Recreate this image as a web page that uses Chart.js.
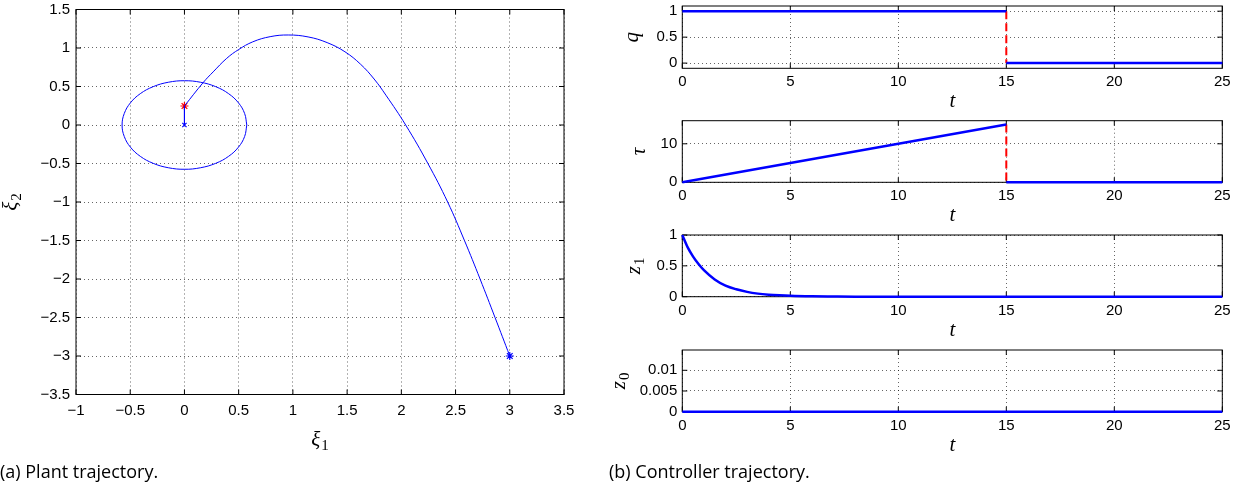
<!DOCTYPE html>
<html>
<head>
<meta charset="utf-8">
<script src="https://cdn.jsdelivr.net/npm/chart.js@4.4.0/dist/chart.umd.min.js"></script>
<style>
    body { margin: 0; background: #fff; }
    #fig { position: relative; width: 1239px; height: 489px; overflow: hidden; }
    #fig canvas { position: absolute; left: 0; top: 0; }
    .cap { position: absolute; top: 460px; line-height: 22px; font-family: 'Open Sans', sans-serif; font-size: 18px; color: #000; white-space: nowrap; }
</style>
</head>
<body>
<div id="fig">
    <canvas id="plantChart" width="1239" height="489"></canvas>
    <canvas id="qChart" width="1239" height="489"></canvas>
    <canvas id="tauChart" width="1239" height="489"></canvas>
    <canvas id="z1Chart" width="1239" height="489"></canvas>
    <canvas id="z0Chart" width="1239" height="489"></canvas>
    <div class="cap" style="left:0px">(a) Plant trajectory.</div>
    <div class="cap" style="left:609px">(b) Controller trajectory.</div>
</div>
<script>
// --- (a) plant trajectory ---
const plantX = [3.0, 2.864, 2.726, 2.582, 2.427, 2.245, 2.04, 1.858, 1.749, 1.625, 1.48, 1.316, 1.14, 0.957, 0.79, 0.63, 0.5, 0.39, 0.265, 0.172, 0.0];
const plantY = [-3.0, -2.5, -2.0, -1.5, -1.0, -0.5, 0.0, 0.387, 0.597, 0.788, 0.951, 1.07, 1.144, 1.169, 1.147, 1.08, 0.98, 0.866, 0.69, 0.55, 0.247];
const ringX = [0.575, 0.555, 0.498, 0.407, 0.288, 0.149, 0, -0.149, -0.288, -0.407, -0.498, -0.555, -0.575, -0.555, -0.498, -0.407, -0.288, -0.149, 0, 0.149, 0.288, 0.407, 0.498, 0.555, 0.575];
const ringY = [0, 0.149, 0.288, 0.407, 0.498, 0.555, 0.575, 0.555, 0.498, 0.407, 0.288, 0.149, 0, -0.149, -0.288, -0.407, -0.498, -0.555, -0.575, -0.555, -0.498, -0.407, -0.288, -0.149, 0];
const jumpX = [0, 0];
const jumpY = [0.247, 0];
const startPt = [3, -3];
const hitPt = [0, 0.247];
const originPt = [0, 0];
const xi1Ticks = [-1, -0.5, 0, 0.5, 1, 1.5, 2, 2.5, 3, 3.5];
const xi2Ticks = [-3.5, -3, -2.5, -2, -1.5, -1, -0.5, 0, 0.5, 1, 1.5];

// --- (b) controller trajectory ---
const tSwitch = 15;
const tTicks = [0, 5, 10, 15, 20, 25];
const qTime1 = [0, 15], qVal1 = [1, 1];
const qTime2 = [15, 25], qVal2 = [0, 0];
const qJump = [1, 0];
const qTicks = [0, 0.5, 1];
const tauTime1 = [0, 15], tauVal1 = [0, 15];
const tauTime2 = [15, 25], tauVal2 = [0, 0];
const tauJump = [15, 0];
const tauTicks = [0, 10];
const z1Time = [0, 0.25, 0.5, 0.75, 1, 1.5, 2, 2.5, 3, 3.5, 4, 4.5, 5, 6, 7, 8, 25];
const z1Val = [1, 0.8, 0.65, 0.53, 0.43, 0.28, 0.18, 0.12, 0.078, 0.05, 0.033, 0.022, 0.014, 0.006, 0.003, 0.001, 0];
const z1Ticks = [0, 0.5, 1];
const z0Time = [0, 25], z0Val = [0, 0];
const z0Ticks = [0, 0.005, 0.01];

const W = 1239, H = 489;
const BLUE = '#0000ff', RED = '#ff0000';
const tickFont = { family: "'Liberation Sans', Arial, sans-serif", size: 15 };
const SERIF = "'Liberation Serif', 'DejaVu Serif', serif";

function pts(xs, ys) {
    return xs.map((x, i) => ({ x: x, y: ys[i] }));
}

function fmt(v) {
    const s = String(Math.round(Math.abs(v) * 10000) / 10000);
    return v < 0 ? '\u2212' + s : s;
}

// italic symbol with an upright subscript, centred on (x, y)
function mathLabel(ctx, x, y, rot, base, sub) {
    ctx.save();
    ctx.translate(x, y);
    ctx.rotate(rot);
    ctx.fillStyle = '#000';
    ctx.textBaseline = 'alphabetic';
    ctx.textAlign = 'left';
    const baseFont = 'italic 21px ' + SERIF;
    const subFont = '15px ' + SERIF;
    ctx.font = baseFont;
    const wb = ctx.measureText(base).width;
    ctx.font = subFont;
    const ws = sub ? ctx.measureText(sub).width + 1 : 0;
    const x0 = -(wb + ws) / 2;
    ctx.font = baseFont;
    ctx.fillText(base, x0, 5);
    if (sub) {
        ctx.font = subFont;
        ctx.fillText(sub, x0 + wb + 1, 9);
    }
    ctx.restore();
}

// box on + inward tick marks, like matlab axes (drawn under the data)
const framePlugin = {
    id: 'frame',
    beforeDatasetsDraw(chart, args, opts) {
        const { ctx, chartArea: a, scales } = chart;
        const len = opts.tick || 5;
        ctx.save();
        ctx.strokeStyle = '#000';
        ctx.lineWidth = 1;
        ctx.beginPath();
        scales.x.ticks.forEach(t => {
            const px = scales.x.getPixelForValue(t.value);
            ctx.moveTo(px, a.bottom); ctx.lineTo(px, a.bottom - len);
            ctx.moveTo(px, a.top); ctx.lineTo(px, a.top + len);
        });
        scales.y.ticks.forEach(t => {
            const py = scales.y.getPixelForValue(t.value);
            ctx.moveTo(a.left, py); ctx.lineTo(a.left + len, py);
            ctx.moveTo(a.right, py); ctx.lineTo(a.right - len, py);
        });
        ctx.stroke();
        ctx.strokeRect(a.left, a.top, a.right - a.left, a.bottom - a.top);
        ctx.restore();
    },
    afterDraw(chart, args, opts) {
        const { ctx, chartArea: a } = chart;
        mathLabel(ctx, (a.left + a.right) / 2, opts.xTitleY, 0, opts.xLabel[0], opts.xLabel[1]);
        mathLabel(ctx, opts.yTitleX, (a.top + a.bottom) / 2, -Math.PI / 2, opts.yLabel[0], opts.yLabel[1]);
    }
};

function makePlot(id, box, cfg) {
    const gridStyle = { color: 'rgba(0,0,0,0.6)', lineWidth: 1, drawTicks: false };
    return new Chart(document.getElementById(id), {
        type: 'scatter',
        data: { datasets: cfg.datasets },
        plugins: [framePlugin],
        options: {
            responsive: false,
            animation: false,
            events: [],
            layout: { autoPadding: false, padding: { left: 0, top: box.t, right: W - box.r, bottom: 0 } },
            plugins: {
                legend: { display: false },
                tooltip: { enabled: false },
                frame: { tick: 5, xTitleY: box.xTitleY, yTitleX: box.yTitleX, xLabel: cfg.xLabel, yLabel: cfg.yLabel }
            },
            scales: {
                x: {
                    type: 'linear', position: 'bottom', min: cfg.xMin, max: cfg.xMax,
                    afterBuildTicks: s => { s.ticks = cfg.xTicks.map(v => ({ value: v })); },
                    afterFit: s => { s.height = H - box.b; s.paddingLeft = 0; s.paddingRight = 0; },
                    ticks: { font: tickFont, color: '#000', padding: box.xPad, maxRotation: 0, autoSkip: false, callback: fmt },
                    grid: gridStyle,
                    border: { display: false, dash: [1, 3] }
                },
                y: {
                    type: 'linear', position: 'left', min: cfg.yMin, max: cfg.yMax,
                    afterBuildTicks: s => { s.ticks = cfg.yTicks.map(v => ({ value: v })); },
                    afterFit: s => { s.width = box.l; s.paddingTop = 0; s.paddingBottom = 0; },
                    ticks: { font: tickFont, color: '#000', padding: box.yPad, autoSkip: false, callback: fmt },
                    grid: gridStyle,
                    border: { display: false, dash: [1, 3] }
                }
            }
        }
    });
}

function line(data, color, width, dash) {
    return { data: data, showLine: true, borderColor: color, borderWidth: width, borderDash: dash || [], pointRadius: 0, tension: 0, clip: false };
}

function marker(p, color, style, r) {
    return { data: [{ x: p[0], y: p[1] }], showLine: false, pointStyle: style, pointRadius: r, pointBorderColor: color, pointBackgroundColor: color, pointBorderWidth: 1.2 };
}

// (a)
makePlot('plantChart', { l: 76, r: 564, t: 9.5, b: 394.5, xPad: 7, yPad: 6, yTitleX: 12, xTitleY: 441 }, {
    xMin: -1, xMax: 3.5, yMin: -3.5, yMax: 1.5, xTicks: xi1Ticks, yTicks: xi2Ticks,
    xLabel: ['ξ', '1'], yLabel: ['ξ', '2'],
    datasets: [
        Object.assign(line(pts(ringX, ringY), BLUE, 1), { tension: 0.4 }),
        Object.assign(line(pts(plantX, plantY), BLUE, 1), { tension: 0.4 }),
        line(pts(jumpX, jumpY), BLUE, 1),
        marker(startPt, BLUE, 'star', 4),
        marker(hitPt, RED, 'star', 4),
        marker(originPt, BLUE, 'crossRot', 3)
    ]
});

// (b)
const L = 682.3, R = 1222.3;
makePlot('qChart', { l: L, r: R, t: 6, b: 68.3, xPad: 5, yPad: 5, yTitleX: 633, xTitleY: 102 }, {
    xMin: 0, xMax: 25, yMin: -0.1, yMax: 1.1, xTicks: tTicks, yTicks: qTicks,
    xLabel: ['t'], yLabel: ['q'],
    datasets: [
        line(pts(qTime1, qVal1), BLUE, 2.5),
        line(pts(qTime2, qVal2), BLUE, 2.5),
        line(pts([tSwitch, tSwitch], qJump), RED, 2, [8, 4])
    ]
});
makePlot('tauChart', { l: L, r: R, t: 120.7, b: 182.3, xPad: 5, yPad: 5, yTitleX: 640, xTitleY: 216 }, {
    xMin: 0, xMax: 25, yMin: 0, yMax: 16, xTicks: tTicks, yTicks: tauTicks,
    xLabel: ['t'], yLabel: ['τ'],
    datasets: [
        line(pts(tauTime1, tauVal1), BLUE, 2.5),
        line(pts(tauTime2, tauVal2), BLUE, 2.5),
        line(pts([tSwitch, tSwitch], tauJump), RED, 2, [8, 4])
    ]
});
makePlot('z1Chart', { l: L, r: R, t: 235, b: 296.7, xPad: 5, yPad: 5, yTitleX: 635, xTitleY: 330.5 }, {
    xMin: 0, xMax: 25, yMin: 0, yMax: 1, xTicks: tTicks, yTicks: z1Ticks,
    xLabel: ['t'], yLabel: ['z', '1'],
    datasets: [
        Object.assign(line(pts(z1Time, z1Val), BLUE, 2.5), { cubicInterpolationMode: 'monotone' })
    ]
});
makePlot('z0Chart', { l: L, r: R, t: 350, b: 411.7, xPad: 5, yPad: 5, yTitleX: 620, xTitleY: 445.5 }, {
    xMin: 0, xMax: 25, yMin: 0, yMax: 0.0149, xTicks: tTicks, yTicks: z0Ticks,
    xLabel: ['t'], yLabel: ['z', '0'],
    datasets: [
        line(pts(z0Time, z0Val), BLUE, 2.5)
    ]
});
</script>
</body>
</html>
